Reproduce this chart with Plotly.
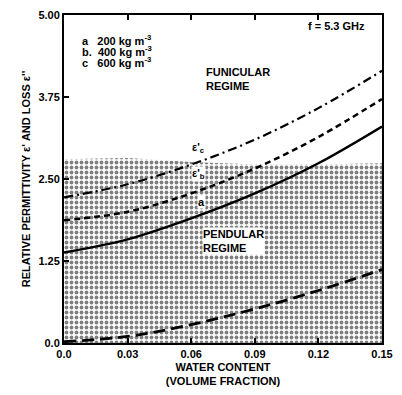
import plotly.graph_objects as go

# Water content (volume fraction)
water = [0.0, 0.03, 0.06, 0.09, 0.12, 0.15]

# Relative permittivity eps' for three snow densities
eps_a = [1.38, 1.58, 1.90, 2.28, 2.74, 3.30]   # 200 kg m-3
eps_b = [1.87, 2.00, 2.28, 2.66, 3.14, 3.72]   # 400 kg m-3
eps_c = [2.22, 2.42, 2.72, 3.10, 3.58, 4.15]   # 600 kg m-3

# Loss eps''
loss_c = [0.02, 0.10, 0.28, 0.52, 0.80, 1.12]

# Upper edge of the pendular regime
pend_top = [2.80, 2.82, 2.76, 2.72, 2.72, 2.74]

y_ticks = [0.0, 1.25, 2.50, 3.75, 5.00]
y_tick_text = ["0.0", "1.25", "2.50", "3.75", "5.00"]
x_ticks = [0.0, 0.03, 0.06, 0.09, 0.12, 0.15]
x_tick_text = ["0.0", "0.03", "0.06", "0.09", "0.12", "0.15"]

FONT = "Liberation Sans, Arial, sans-serif"

def bold_font(size=11):
    return dict(family=FONT, size=size, color="black", weight="bold")

fig = go.Figure()

# Stippled pendular region
fig.add_trace(go.Scatter(
    x=water + water[::-1],
    y=pend_top + [0.0] * len(water),
    fill="toself",
    mode="none",
    fillcolor="rgba(0,0,0,0)",
    fillpattern=dict(shape=".", fgcolor="black", bgcolor="white", size=5, solidity=0.45),
    hoverinfo="skip",
    showlegend=False,
))

line_common = dict(color="black", shape="spline", smoothing=1.0)
fig.add_trace(go.Scatter(x=water, y=eps_a, mode="lines",
                         line=dict(width=2.5, dash="solid", **line_common), showlegend=False))
fig.add_trace(go.Scatter(x=water, y=eps_b, mode="lines",
                         line=dict(width=2.5, dash="6px,4px", **line_common), showlegend=False))
fig.add_trace(go.Scatter(x=water, y=eps_c, mode="lines",
                         line=dict(width=2.2, dash="9px,4px,2px,4px", **line_common), showlegend=False))
fig.add_trace(go.Scatter(x=water, y=loss_c, mode="lines",
                         line=dict(width=2.8, dash="12px,6px", **line_common), showlegend=False))

annotations = [
    dict(x=0.0075, y=4.62, text="a&nbsp;&nbsp;&nbsp;200 kg m<sup>-3</sup>", xanchor="left"),
    dict(x=0.0075, y=4.45, text="b.&nbsp;&nbsp;400 kg m<sup>-3</sup>", xanchor="left"),
    dict(x=0.0075, y=4.28, text="c&nbsp;&nbsp;&nbsp;600 kg m<sup>-3</sup>", xanchor="left"),
    dict(x=0.143, y=4.83, text="f = 5.3 GHz", xanchor="right"),
    dict(x=0.066, y=4.02, text="FUNICULAR<br>REGIME", xanchor="left", align="left"),
    dict(x=0.065, y=1.55, text="PENDULAR<br>REGIME", xanchor="left", align="left",
         bgcolor="white", borderpad=0),
    dict(x=0.0635, y=2.98, text="ε'<sub>c</sub>", xanchor="center"),
    dict(x=0.0635, y=2.57, text="ε'<sub>b</sub>", xanchor="center",
         bgcolor="white", borderpad=0),
    dict(x=0.0650, y=2.15, text="a", xanchor="center", bgcolor="white", borderpad=0),
]
for a in annotations:
    a.update(xref="x", yref="y", showarrow=False, font=bold_font(11), yanchor="middle")
fig.update_layout(annotations=annotations)

fig.update_xaxes(
    range=[0, 0.15], tickvals=x_ticks, ticktext=x_tick_text,
    ticks="inside", ticklen=5, tickwidth=1.5, tickcolor="black",
    showline=True, linecolor="black", linewidth=2, mirror="ticks",
    showgrid=False, zeroline=False,
    tickfont=bold_font(11),
    title=dict(text="WATER CONTENT<br>(VOLUME FRACTION)", font=bold_font(11), standoff=4),
)
fig.update_yaxes(
    range=[0, 5.0], tickvals=y_ticks, ticktext=y_tick_text,
    ticks="inside", ticklen=5, tickwidth=1.5, tickcolor="black",
    showline=True, linecolor="black", linewidth=2, mirror=True,
    showgrid=False, zeroline=False,
    tickfont=bold_font(11),
    title=dict(text="RELATIVE PERMITTIVITY ε' AND LOSS ε''", font=bold_font(11), standoff=6),
)

fig.update_layout(
    width=402, height=395,
    margin=dict(l=64, r=9, t=15, b=52),
    paper_bgcolor="white", plot_bgcolor="white",
    font=dict(family=FONT, color="black"),
)

fig.write_html("out.html")
